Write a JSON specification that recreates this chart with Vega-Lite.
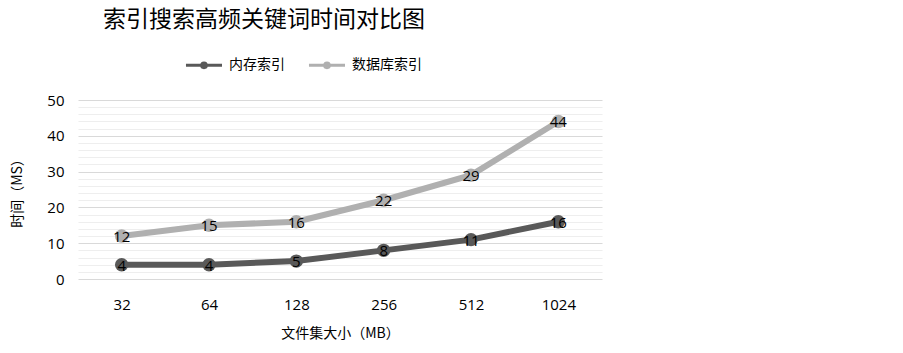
{
  "$schema": "https://vega.github.io/schema/vega-lite/v6.json",
  "autosize": "none",
  "width": 524,
  "height": 179,
  "padding": {"left": 78, "top": 100, "right": 301, "bottom": 74},
  "background": "white",
  "config": {
    "view": {"stroke": null},
    "font": "Noto Sans CJK SC"
  },
  "title": {
    "text": "索引搜索高频关键词时间对比图",
    "fontSize": 23,
    "fontWeight": "normal",
    "font": "Noto Sans CJK SC",
    "color": "#000000",
    "anchor": "middle",
    "dx": -76,
    "offset": 13
  },
  "data": {
    "values": [
      {"size": "32", "series": "内存索引", "time": 4},
      {"size": "64", "series": "内存索引", "time": 4},
      {"size": "128", "series": "内存索引", "time": 5},
      {"size": "256", "series": "内存索引", "time": 8},
      {"size": "512", "series": "内存索引", "time": 11},
      {"size": "1024", "series": "内存索引", "time": 16},
      {"size": "32", "series": "数据库索引", "time": 12},
      {"size": "64", "series": "数据库索引", "time": 15},
      {"size": "128", "series": "数据库索引", "time": 16},
      {"size": "256", "series": "数据库索引", "time": 22},
      {"size": "512", "series": "数据库索引", "time": 29},
      {"size": "1024", "series": "数据库索引", "time": 44}
    ]
  },
  "encoding": {
    "x": {
      "field": "size",
      "type": "ordinal",
      "sort": null,
      "scale": {"type": "point", "padding": 0.5},
      "axis": {
        "title": "文件集大小（MB）",
        "titleFont": "Noto Sans CJK SC",
        "titleFontSize": 14,
        "titleFontWeight": "normal",
        "titleColor": "#000000",
        "titlePadding": 14,
        "labelAngle": 0,
        "labelFont": "Open Sans",
        "labelFontSize": 15,
        "labelColor": "#000000",
        "labelPadding": 18,
        "ticks": false,
        "domain": false,
        "grid": false
      }
    },
    "y": {
      "field": "time",
      "type": "quantitative",
      "scale": {"domain": [0, 50], "nice": false},
      "axis": {
        "title": "时间（MS）",
        "titleFont": "Noto Sans CJK SC",
        "titleFontSize": 14,
        "titleFontWeight": "normal",
        "titleColor": "#000000",
        "titlePadding": 22,
        "values": [0, 2, 4, 6, 8, 10, 12, 14, 16, 18, 20, 22, 24, 26, 28, 30, 32, 34, 36, 38, 40, 42, 44, 46, 48, 50],
        "labelExpr": "datum.value % 10 === 0 ? datum.label : ''",
        "labelFont": "Open Sans",
        "labelFontSize": 15,
        "labelColor": "#000000",
        "labelPadding": 14,
        "ticks": false,
        "domain": false,
        "grid": true,
        "gridColor": {"condition": {"test": "datum.value % 10 === 0", "value": "#d9d9d9"}, "value": "#eeeeee"},
        "gridWidth": 1.2
      }
    },
    "color": {
      "field": "series",
      "type": "nominal",
      "sort": ["内存索引", "数据库索引"],
      "scale": {"domain": ["内存索引", "数据库索引"], "range": ["#595959", "#b0b0b0"]},
      "legend": {
        "title": null,
        "orient": "none",
        "direction": "horizontal",
        "legendX": 106,
        "legendY": -55,
        "labelFont": "Noto Sans CJK SC",
        "labelFontSize": 14,
        "labelColor": "#000000",
        "symbolType": "M-1,0L1,0M-0.13,0A0.13,0.13,0,1,1,0.13,0A0.13,0.13,0,1,1,-0.13,0Z",
        "symbolSize": 1300,
        "symbolStrokeWidth": 3,
        "columnPadding": 17,
        "labelOffset": 5,
        "encode": {
          "symbols": {"update": {"fill": {"scale": "color", "field": "value"}, "stroke": {"scale": "color", "field": "value"}}}
        }
      }
    }
  },
  "layer": [
    {"mark": {"type": "line", "strokeWidth": 6}},
    {"mark": {"type": "circle", "size": 180, "opacity": 1}},
    {
      "mark": {"type": "text", "font": "Open Sans", "fontSize": 15, "color": "#000000", "dy": 1},
      "encoding": {"text": {"field": "time", "type": "quantitative"}, "color": {"value": "#000000"}}
    }
  ]
}
